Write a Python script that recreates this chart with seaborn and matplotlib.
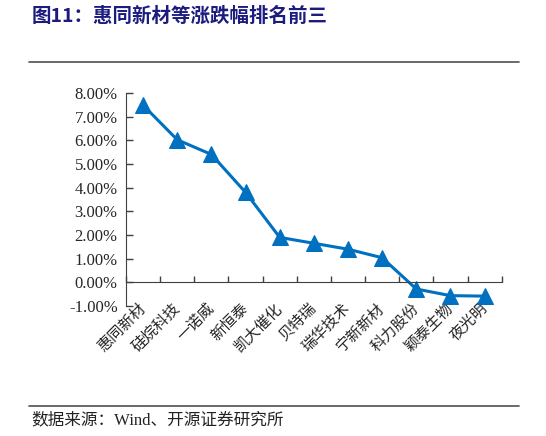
import numpy as np
import pandas as pd
import matplotlib
matplotlib.use('Agg')
import matplotlib.pyplot as plt
import seaborn as sns
from matplotlib.ticker import FuncFormatter, FixedLocator

# 涨跌幅数据 (%)
stocks = ['惠同新材', '硅烷科技', '一诺威', '新恒泰', '凯大催化', '贝特瑞',
          '瑞华技术', '宁新新材', '科力股份', '颖泰生物', '夜光明']
change = [7.48, 6.02, 5.40, 3.80, 1.90, 1.65, 1.40, 1.04, -0.28, -0.56, -0.58]

df = pd.DataFrame({'stock': stocks, 'change': change})

sns.set_style('white')
plt.rcParams['font.family'] = ['Liberation Serif', 'Noto Sans CJK SC']
plt.rcParams['axes.unicode_minus'] = False

fig = plt.figure(figsize=(5.46, 4.36), dpi=100)
ax = fig.add_axes([0.2308, 0.298, 0.688, 0.489])

sns.lineplot(data=df, x='stock', y='change', sort=False, ax=ax,
             color='#0070C0', linewidth=2.2, marker='^', markersize=11,
             markeredgecolor='#0070C0')

ax.set_xlim(-0.5, len(stocks) - 0.5)
ax.set_ylim(-1, 8)
ax.set_yticks(np.arange(-1, 9, 1))
ax.yaxis.set_major_formatter(FuncFormatter(lambda v, p: f'{v:.2f}%'))
ax.set_xlabel('')
ax.set_ylabel('')

for s in ['top', 'right']:
    ax.spines[s].set_visible(False)
ax.spines['left'].set_color('#404040')
ax.spines['bottom'].set_color('#404040')
ax.spines['bottom'].set_position(('data', 0))

ax.tick_params(axis='y', direction='in', length=5, width=1, color='#404040',
               labelsize=12, pad=6, left=True)
ax.xaxis.set_minor_locator(FixedLocator(np.arange(-0.5, len(stocks), 1)))
ax.tick_params(axis='x', which='minor', direction='in', length=4, width=1,
               color='#404040', bottom=True)
ax.tick_params(axis='x', which='major', length=0, pad=17)
for lab in ax.get_xticklabels():
    lab.set_rotation(45)
    lab.set_ha('right')
    lab.set_va('center')
    lab.set_rotation_mode('anchor')
    lab.set_fontsize(11)
    lab.set_fontfamily(['Noto Sans CJK SC', 'Liberation Serif'])

fig.text(0.058, 0.962, '图11：惠同新材等涨跌幅排名前三', fontsize=14,
         fontweight='bold', color='#1c1c80', va='center', ha='left',
         family=['Noto Sans CJK SC', 'Liberation Serif'])
fig.add_artist(plt.Line2D([0.053, 0.95], [0.858, 0.858], color='#505050', lw=1.2))
fig.add_artist(plt.Line2D([0.053, 0.95], [0.068, 0.068], color='#505050', lw=1.2))
fig.text(0.058, 0.036, '数据来源：Wind、开源证券研究所', fontsize=12,
         color='#222222', va='center', ha='left',
         family=['Liberation Serif', 'Noto Sans CJK SC'])

fig.savefig('out.png', dpi=100)
